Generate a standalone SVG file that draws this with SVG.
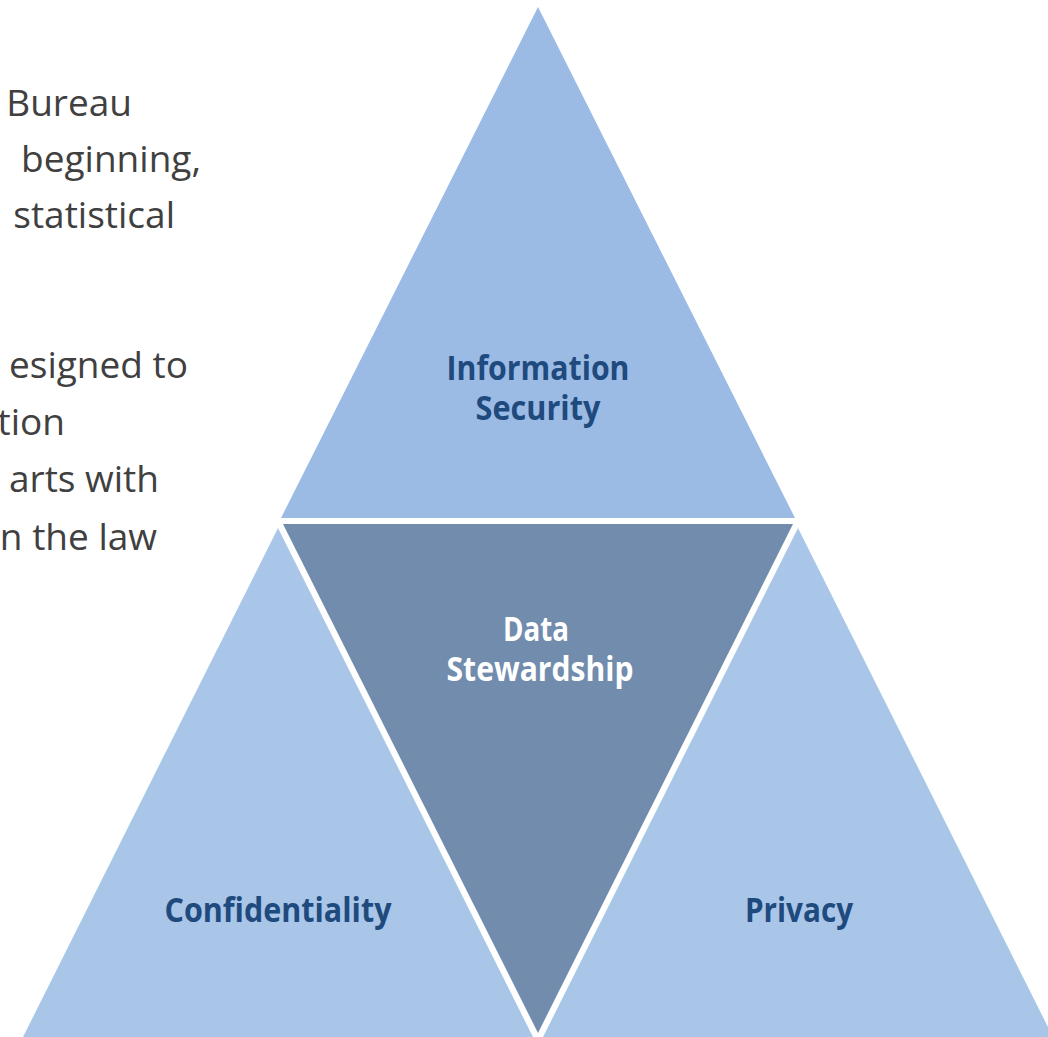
<svg xmlns="http://www.w3.org/2000/svg" width="1048" height="1037" viewBox="0 0 1048 1037">
  <style>
    .body { font-family: "Open Sans", "Liberation Sans", sans-serif; font-size: 37px; fill: #404040; text-anchor: end; }
    .lbl { font-family: "Open Sans", "Liberation Sans", sans-serif; font-size: 34px; font-weight: bold; text-anchor: middle; }
    .dark { fill: #1F4A7E; }
    .light { fill: #FFFFFF; }
    .top { fill: #9BBBE5; }
    .mid { fill: #728CAD; }
    .side { fill: #A9C5E8; }
  </style>
  <rect width="1048" height="1037" fill="#FFFFFF"/>

  <g id="body-text">
    <text class="body" x="132" y="116">Bureau</text>
    <text class="body" x="201" y="172">beginning,</text>
    <text class="body" x="175" y="228">statistical</text>
    <text class="body" x="188" y="378">esigned to</text>
    <text class="body" x="65" y="435">tion</text>
    <text class="body" x="159" y="492">arts with</text>
    <text class="body" x="157" y="550">n the law</text>
  </g>

  <g id="information-security">
    <polygon class="top" points="538,7 795,518 281,518"/>
    <text class="lbl dark" x="538" y="380" textLength="183" lengthAdjust="spacingAndGlyphs">Information</text>
    <text class="lbl dark" x="538" y="420" textLength="125" lengthAdjust="spacingAndGlyphs">Security</text>
  </g>

  <g id="data-stewardship">
    <polygon class="mid" points="283,524 793,524 538,1033"/>
    <text class="lbl light" x="536" y="641" textLength="66" lengthAdjust="spacingAndGlyphs">Data</text>
    <text class="lbl light" x="540" y="681" textLength="187" lengthAdjust="spacingAndGlyphs">Stewardship</text>
  </g>

  <g id="confidentiality">
    <polygon class="side" points="278,528 533,1037 23,1037"/>
    <text class="lbl dark" x="278" y="922" textLength="227" lengthAdjust="spacingAndGlyphs">Confidentiality</text>
  </g>

  <g id="privacy">
    <polygon class="side" points="798,528 1053,1037 543,1037"/>
    <text class="lbl dark" x="799" y="922" textLength="108" lengthAdjust="spacingAndGlyphs">Privacy</text>
  </g>
</svg>
